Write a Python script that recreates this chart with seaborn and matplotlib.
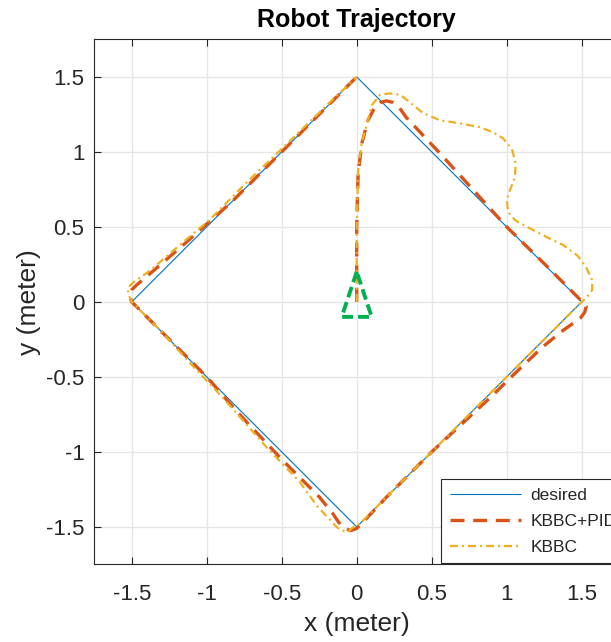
import matplotlib
matplotlib.use("Agg")
import matplotlib.pyplot as plt
import seaborn as sns
import pandas as pd

# ---- data ----
desired_x = [0.0, 1.5, 0.0, -1.5, 0.0]
desired_y = [1.5, 0.0, -1.5, 0.0, 1.5]

pid_x = [0.0, 0.0, 0.0, 0.005, 0.01, 0.035, 0.075, 0.12, 0.16, 0.2, 0.24, 0.28, 0.33,
         0.555, 0.71, 1.0, 1.25, 1.4, 1.5, 1.53, 1.52, 1.49, 1.376, 1.24, 1.135,
         1.01, 0.91, 0.78, 0.5, 0.2, 0.05, 0.0, -0.04, -0.08, -0.12, -0.16, -0.25,
         -0.5, -0.8, -1.0, -1.3, -1.45, -1.5, -1.515, -1.5, -1.47, -1.376, -1.26,
         -1.155, -1.044, -0.93, -0.82, -0.73, -0.5, -0.2, 0.0]
pid_y = [0.0, 0.2, 0.5, 0.7, 0.86, 1.06, 1.21, 1.295, 1.33, 1.34, 1.33, 1.30, 1.23,
         0.99, 0.82, 0.50, 0.255, 0.105, 0.005, -0.03, -0.07, -0.11, -0.19, -0.30, -0.40,
         -0.52, -0.62, -0.74, -1.0, -1.3, -1.46, -1.51, -1.525, -1.51, -1.47, -1.41, -1.30,
         -1.05, -0.73, -0.5, -0.2, -0.05, 0.0, 0.04, 0.08, 0.11, 0.19, 0.29,
         0.38, 0.48, 0.58, 0.68, 0.77, 1.0, 1.3, 1.5]

kbbc_x = [0.0, 0.0, 0.005, 0.01, 0.035, 0.07, 0.10, 0.155, 0.22, 0.29, 0.355, 0.44,
          0.556, 0.69, 0.82, 0.91, 0.976, 1.035, 1.06, 1.055, 1.02, 1.0, 1.01, 1.055,
          1.135, 1.27, 1.375, 1.47, 1.53, 1.57, 1.57, 1.53, 1.50, 1.47, 1.0, 0.5,
          0.1, 0.02, -0.02, -0.06, -0.11, -0.145, -0.19, -0.265, -0.38, -0.6, -0.9,
          -1.1, -1.3, -1.45, -1.5, -1.525, -1.52, -1.49, -1.376, -1.155, -0.977,
          -0.73, -0.5, -0.2, 0.0]
kbbc_y = [0.0, 0.5, 0.7, 0.88, 1.07, 1.19, 1.31, 1.38, 1.39, 1.38, 1.33, 1.26,
          1.21, 1.19, 1.165, 1.13, 1.09, 1.02, 0.92, 0.83, 0.74, 0.68, 0.60, 0.545,
          0.50, 0.43, 0.38, 0.31, 0.23, 0.145, 0.08, 0.025, 0.0, -0.03, -0.5, -1.0,
          -1.4, -1.48, -1.50, -1.535, -1.52, -1.49, -1.44, -1.36, -1.20, -0.97, -0.63,
          -0.42, -0.2, -0.05, 0.0, 0.06, 0.10, 0.13, 0.21, 0.40, 0.55,
          0.80, 1.02, 1.31, 1.5]

robot_x = [0.0, -0.1, 0.1, 0.0]
robot_y = [0.2, -0.1, -0.1, 0.2]

ticks = [-1.5, -1, -0.5, 0, 0.5, 1, 1.5]
tick_labels = ["-1.5", "-1", "-0.5", "0", "0.5", "1", "1.5"]

# ---- style ----
sns.set_theme(style="white")
plt.rcParams["font.family"] = ["Liberation Sans", "DejaVu Sans"]
plt.rcParams["lines.solid_capstyle"] = "butt"

fig = plt.figure(figsize=(6.11, 6.42), dpi=100)
ax = fig.add_axes([0.1542, 0.1209, 0.8592, 0.8178])

c_blue = "#0072BD"
c_orange = "#D95319"
c_yellow = "#EDB120"
c_green = "#00B050"

d0 = pd.DataFrame({"x": desired_x, "y": desired_y})
d1 = pd.DataFrame({"x": pid_x, "y": pid_y})
d2 = pd.DataFrame({"x": kbbc_x, "y": kbbc_y})
d3 = pd.DataFrame({"x": robot_x, "y": robot_y})

sns.lineplot(data=d0, x="x", y="y", sort=False, estimator=None, ax=ax,
             color=c_blue, linewidth=0.8, label="desired")
sns.lineplot(data=d1, x="x", y="y", sort=False, estimator=None, ax=ax,
             color=c_orange, linewidth=2.4, linestyle=(0, (4.2, 2.6)), label="KBBC+PID")
sns.lineplot(data=d2, x="x", y="y", sort=False, estimator=None, ax=ax,
             color=c_yellow, linewidth=1.6, linestyle=(0, (3.6, 1.8, 0.9, 1.8)), label="KBBC")
sns.lineplot(data=d3, x="x", y="y", sort=False, estimator=None, ax=ax,
             color=c_green, linewidth=2.8, linestyle=(0, (2.8, 1.3)), legend=False)

ax.set_xlim(-1.75, 1.75)
ax.set_ylim(-1.75, 1.75)
ax.set_xticks(ticks)
ax.set_xticklabels(tick_labels)
ax.set_yticks(ticks)
ax.set_yticklabels(tick_labels)
ax.grid(True, color="#e6e6e6", linewidth=1.0)
ax.set_axisbelow(True)
for s in ax.spines.values():
    s.set_color("#262626")
    s.set_linewidth(0.8)
    s.set_visible(True)
ax.tick_params(direction="in", length=5, width=0.8, color="#262626",
               labelsize=16, labelcolor="#262626", top=True, right=True,
               bottom=True, left=True)
ax.tick_params(axis="x", pad=14)
ax.tick_params(axis="y", pad=7)

ax.set_title("Robot Trajectory", fontsize=18, fontweight="bold", pad=9, color="black")
ax.set_xlabel("x (meter)", fontsize=19, color="#262626", labelpad=5)
ax.set_ylabel("y (meter)", fontsize=19, color="#262626", labelpad=4)

leg = ax.legend(loc="lower left", bbox_to_anchor=((441 - 94.2) / 525, 0.002),
                borderaxespad=0.0, fancybox=False, framealpha=1.0,
                edgecolor="#262626", fontsize=12.5, handlelength=4.1,
                handletextpad=0.55, labelspacing=0.62, borderpad=0.5)
leg.get_frame().set_linewidth(0.8)

fig.savefig("out.png", dpi=100)
